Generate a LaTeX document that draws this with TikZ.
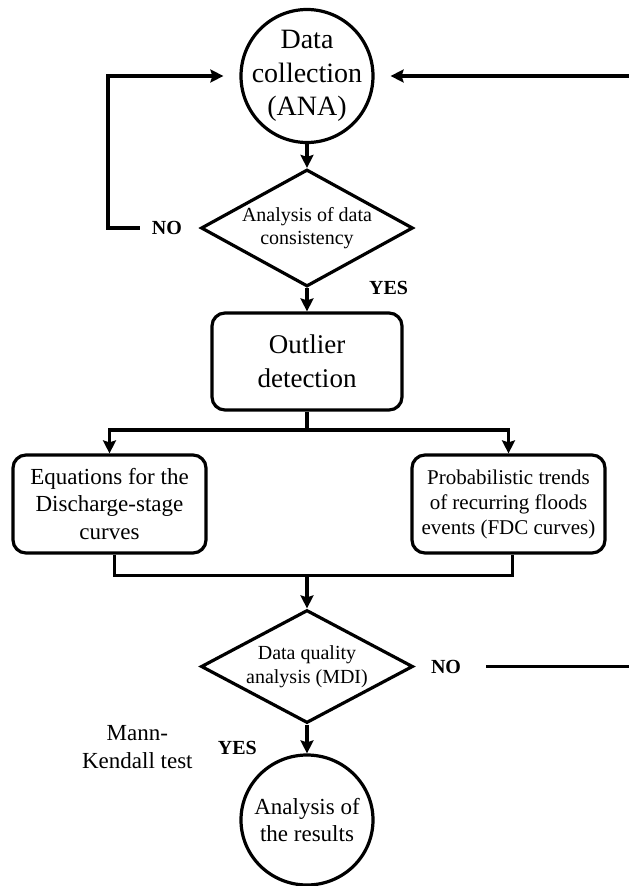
\documentclass[tikz,border=0pt]{standalone}
\usepackage{fontspec}
\setmainfont{Liberation Serif}
\usetikzlibrary{shapes.geometric,arrows.meta,positioning}
\tikzset{
    terminal/.style={
           ellipse,
           draw=black, line width=3.2pt,
           minimum width=132pt,
           inner sep=-14pt,
           align=center
           },
    decision/.style={
           diamond,
           draw=black, line width=3.2pt,
           minimum width=212pt,
           aspect=1.85,
           inner sep=-4pt,
           align=center,
           font=\fontsize{20}{23.5}\selectfont
           },
    process/.style={
           rectangle, rounded corners=13pt,
           draw=black, line width=3.2pt,
           minimum width=193pt,
           minimum height=98pt,
           align=center
           },
    answer/.style={
           font=\fontsize{20}{24}\selectfont\bfseries,
           inner sep=2pt
           },
    flow/.style={
           line width=3.2pt
           }
}
\begin{document}
\begin{tikzpicture}[>={Stealth[length=13pt,width=13pt,inset=2pt]}, node distance=1.5cm, on grid]
   \useasboundingbox (-307pt,76pt) rectangle (322pt,-810pt);

   \node[terminal, minimum height=133pt, font=\fontsize{28}{33.5}\selectfont] (dc) at (0,0) {Data\\collection\\(ANA)};
   \node[decision, minimum height=117pt] (cons) [below=152pt of dc] {Analysis of data\\consistency};
   \node[process, minimum width=190pt, minimum height=97pt, font=\fontsize{27}{34}\selectfont] (outl) [below=133.5pt of cons] {Outlier\\detection};
   \node[process, font=\fontsize{23}{27.5}\selectfont] (eq) [below left=142.5pt and 197.5pt of outl] {Equations for the\\Discharge-stage\\curves};
   \node[process, font=\fontsize{21}{25}\selectfont] (prob) [below right=142.5pt and 201.5pt of outl] {Probabilistic trends\\of recurring floods\\events (FDC curves)};
   \node[decision, minimum height=113pt] (mdi) [below=305pt of outl] {Data quality\\analysis (MDI)};
   \node[terminal, minimum height=130pt, font=\fontsize{23}{27}\selectfont] (res) [below=153.5pt of mdi] {Analysis of\\the results};

   % answers
   \node[answer] (no1) [left=140pt of cons] {NO};
   \node[answer] (yes1) [right=60pt of cons.south] {YES};
   \node[answer] (no2) [right=139pt of mdi] {NO};
   \node[answer] (yes2) [below left=14pt and 48pt of mdi.south] {YES};
   \node[font=\fontsize{23}{28}\selectfont, align=center] (mk) [left=100pt of yes2] {Mann-\\Kendall test};

   \coordinate[left=199pt of dc] (back);
   \coordinate[right=322pt of dc] (ret);
   \coordinate[right=322pt of mdi] (out);
   \coordinate[below=68.5pt of outl] (split);
   \coordinate[above=33pt of mdi.north] (join);

   \path[->, flow]
    (dc)   edge (cons)
    (cons) edge (outl)
    (mdi)  edge (res)
    ;
   \draw[flow] (outl) -- (split);
   \draw[->, flow] (split) -| (eq);
   \draw[->, flow] (split) -| (prob);
   \draw[flow] ([xshift=5pt]eq.south) |- (join) -| ([xshift=4pt]prob.south);
   \draw[->, flow] (join) -- (mdi);

   % loops back to the data
   \draw[->, flow, shorten <=10pt, shorten >=16pt] (no1.west) -| (back) -- (dc);
   \draw[->, flow, shorten >=16pt] (ret) -- (dc);
   \draw[flow, shorten <=23pt] (no2) -- (out);
\end{tikzpicture}
\end{document}
